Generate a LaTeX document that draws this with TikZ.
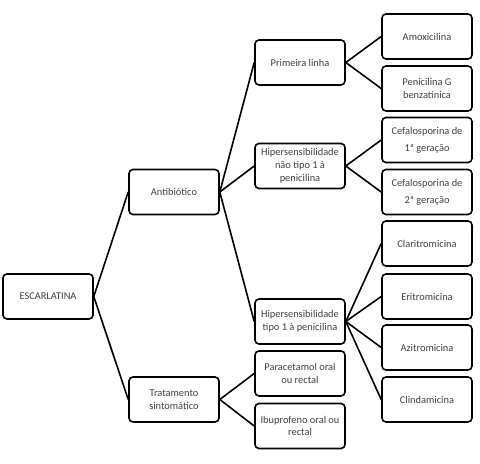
\documentclass[tikz,border=0pt]{standalone}
\usepackage{fontspec}
\setmainfont{Carlito}
\usetikzlibrary{positioning}
\begin{document}
\begin{tikzpicture}[x=0.75pt, y=-0.75pt,
  block/.style={draw, rounded corners=3pt, line width=1.2pt, minimum width=67.5pt, minimum height=33.75pt, align=center, inner sep=0pt, text=black!75, font=\fontsize{7.8}{9.6}\selectfont},
  link/.style={line width=1.2pt}]

  \useasboundingbox (0,0) rectangle (480,464);

  % First column
  \node[block] (escarlatina) at (48,296.5) {ESCARLATINA};

  % Second column
  \node[block] (antib) at (174,192) {Antibiótico};
  \node[block] (tratam) at (174,399.5) {Tratamento\\sintomático};

  % Third column
  \node[block] (prim) at (300,62.5) {Primeira linha};
  \node[block] (hipnt) at (300,166) {Hipersensibilidade\\não tipo 1 à\\penicilina};
  \node[block] (hipt1) at (300,321.5) {Hipersensibilidade\\tipo 1 à penicilina};
  \node[block] (parac) at (300,373.5) {Paracetamol oral\\ou rectal};
  \node[block] (ibup) at (300,426) {Ibuprofeno oral ou\\rectal};

  % Fourth column
  \node[block] (amox) at (427,36.5) {Amoxicilina};
  \node[block] (penG) at (427,88.5) {Penicilina G\\benzatínica};
  \node[block] (cef1) at (427,140) {Cefalosporina de\\[3pt]1ª geração};
  \node[block] (cef2) at (427,192) {Cefalosporina de\\[3pt]2ª geração};
  \node[block] (clar) at (427,243.5) {Claritromicina};
  \node[block] (erit) at (427,296.5) {Eritromicina};
  \node[block] (azit) at (427,347.5) {Azitromicina};
  \node[block] (clin) at (427,399.5) {Clindamicina};

  % Connectors
  \draw[link] (escarlatina.east) -- (antib.west);
  \draw[link] (escarlatina.east) -- (tratam.west);
  \draw[link] (antib.east) -- (prim.west);
  \draw[link] (antib.east) -- (hipnt.west);
  \draw[link] (antib.east) -- (hipt1.west);
  \draw[link] (tratam.east) -- (parac.west);
  \draw[link] (tratam.east) -- (ibup.west);
  \draw[link] (prim.east) -- (amox.west);
  \draw[link] (prim.east) -- (penG.west);
  \draw[link] (hipnt.east) -- (cef1.west);
  \draw[link] (hipnt.east) -- (cef2.west);
  \draw[link] (hipt1.east) -- (clar.west);
  \draw[link] (hipt1.east) -- (erit.west);
  \draw[link] (hipt1.east) -- (azit.west);
  \draw[link] (hipt1.east) -- (clin.west);

\end{tikzpicture}
\end{document}
